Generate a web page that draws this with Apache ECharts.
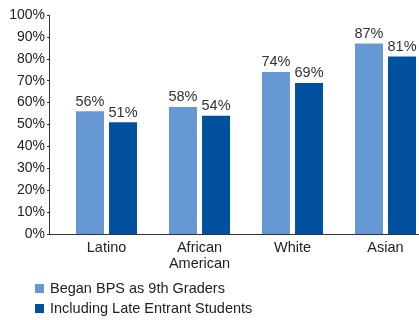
<!DOCTYPE html>
<html><head><meta charset="utf-8">
<script src="https://cdn.jsdelivr.net/npm/echarts@6/dist/echarts.min.js"></script>
<style>html,body{margin:0;padding:0;background:#fff}#c{width:419px;height:320px}</style>
</head><body><div id="c"></div>
<script>
const categories = ['Latino', 'African\nAmerican', 'White', 'Asian'];
const began9th = [56, 58, 74, 87];
const lateEntrant = [51, 54, 69, 81];
const yTicks = [0, 10, 20, 30, 40, 50, 60, 70, 80, 90, 100];
const seriesNames = ['Began BPS as 9th Graders', 'Including Late Entrant Students'];

const chart = echarts.init(document.getElementById('c'), null, {renderer: 'canvas'});
const font = 'Liberation Sans, Arial, sans-serif';
const legendBase = {
  left: 35, itemWidth: 9, itemHeight: 9, itemGap: 6, icon: 'rect', padding: 0,
  textStyle: {fontFamily: font, fontSize: 14.5, color: '#222', padding: [0, 0, 0, 1]}
};
const labelStyle = {show: true, position: 'top', distance: 2, formatter: '{c}%', fontFamily: font, fontSize: 14.5, color: '#333'};
chart.setOption({
  animation: false,
  grid: {left: 60, top: 15, width: 372, height: 219, containLabel: false, outerBoundsMode: 'none'},
  legend: [
    Object.assign({}, legendBase, {top: 281, data: [seriesNames[0]]}),
    Object.assign({}, legendBase, {top: 301, data: [seriesNames[1]]})
  ],
  xAxis: {
    type: 'category', data: categories,
    axisLine: {lineStyle: {color: '#333', width: 1}},
    axisTick: {show: false},
    axisLabel: {fontFamily: font, fontSize: 14.5, color: '#222', lineHeight: 16, margin: 6}
  },
  yAxis: {
    type: 'value', min: yTicks[0], max: yTicks[yTicks.length - 1], interval: 10,
    offset: 11,
    axisLine: {show: true, lineStyle: {color: '#333', width: 1}},
    axisTick: {show: true, length: 2, lineStyle: {color: '#333'}},
    splitLine: {show: false},
    axisLabel: {fontFamily: font, fontSize: 14, color: '#222', margin: 4, formatter: '{value}%'}
  },
  graphic: [{
    type: 'line', shape: {x1: 49, y1: 234.5, x2: 61, y2: 234.5},
    style: {stroke: '#333', lineWidth: 1}
  }],
  series: [
    {name: seriesNames[0], type: 'bar', data: began9th, barWidth: 28, barGap: '18%',
     itemStyle: {color: '#6699d3'}, label: labelStyle},
    {name: seriesNames[1], type: 'bar', data: lateEntrant, barWidth: 28,
     itemStyle: {color: '#0050a0'}, label: labelStyle}
  ]
});
</script></body></html>
